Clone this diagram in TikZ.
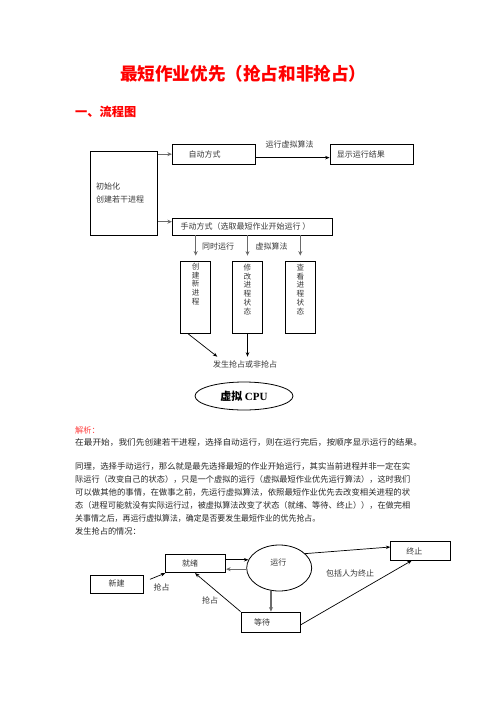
\documentclass[tikz,border=0pt]{standalone}
\usepackage{graphicx}
\usepackage{fontspec}
\setmainfont{Noto Sans CJK SC}
\newfontfamily\cpufont{Liberation Serif}
\usetikzlibrary{arrows.meta,shapes.geometric,calc}
\definecolor{tred}{HTML}{FF0000}
\definecolor{jred}{HTML}{FF4040}
\definecolor{txt}{HTML}{383838}
\definecolor{garrow}{HTML}{6A6A6A}
\newcommand\fitw[2]{\resizebox{#1}{\height}{#2}}
\tikzset{
  box/.style={draw=black, line width=0.8pt, inner sep=0pt},
  lbl/.style={font=\fontsize{8}{9.5}\selectfont, text=txt, inner sep=0pt},
  body/.style={font=\fontsize{8.2}{9}\selectfont, text=black!85, inner sep=0pt, anchor=west},
  vtxt/.style={font=\fontsize{7.6}{8.7}\selectfont, text=txt, inner sep=0pt, align=center, anchor=north},
  arr/.style={draw=black, line width=0.7pt, -{Stealth[length=4.5pt,width=3.5pt]}},
  garr/.style={draw=garrow, line width=1.5pt, -{Stealth[length=4.5pt,width=4pt]}}
}
\begin{document}
\begin{tikzpicture}[x=1pt,y=-1pt]
\useasboundingbox[fill=white] (0,0) rectangle (496,702);

% title
\node[font=\fontsize{17.6}{20}\selectfont\bfseries, text=tred, inner sep=0pt] (title) at (243.3,73.3) {最短作业优先（抢占和非抢占）};
\node[font=\fontsize{12.2}{14}\selectfont\bfseries, text=tred, inner sep=0pt, anchor=west] (head) at (75,112.3) {一、流程图};

% upper flow chart
\node[box, minimum width=67.7pt, minimum height=84pt] (init) at (123.85,193) {};
\node[lbl, anchor=west, align=left, font=\fontsize{8}{12.3}\selectfont] (initt) at (96,193) {初始化\\创建若干进程};
\node[box, minimum width=83.4pt, minimum height=19.7pt] (auto) at (214,154.15) {};
\node[lbl, anchor=west] (autot) at (188.3,154.15) {自动方式};
\node[box, minimum width=83pt, minimum height=19.7pt] (res) at (371.5,154.15) {};
\node[lbl, anchor=west] (rest) at (336.7,154.15) {显示运行结果};
\node[lbl] (virt) at (289.5,144) {运行虚拟算法};
\node[box, minimum width=159.7pt, minimum height=17pt] (man) at (252.15,226.5) {};
\node[lbl, anchor=west] (mant) at (180.5,226.5) {手动方式（选取最短作业开始运行 ）};

\coordinate (ia) at (init.north east |- auto.west);
\coordinate (im) at ($(init.north east |- man.west)+(0,-4.8)$);
\draw[garr, line width=1.2pt] (ia) -- (auto.west);
\draw[garr, line width=1.2pt] (im) -- (im -| man.west);
\draw[arr] ($(auto.east)+(0,3.5)$) -- ($(res.west)+(0,3.5)$);

\node[box, minimum width=30pt, minimum height=72.3pt] (cre) at (195.7,297.15) {};
\node[box, minimum width=29.6pt, minimum height=72.3pt] (mod) at (247.5,297.15) {};
\node[box, minimum width=30pt, minimum height=72.3pt] (vie) at (300.3,297.15) {};
\node[vtxt] (cret) at (195.7,263) {创\\建\\新\\进\\程};
\node[vtxt] (modt) at (247.5,264) {修\\改\\进\\程\\状\\态};
\node[vtxt] (viet) at (300.3,264) {查\\看\\进\\程\\状\\态};

\draw[garr] (man.south -| cre.north) -- ($(cre.north)+(0,-5)$);
\draw[garr] (man.south -| mod.north) -- ($(mod.north)+(0,-5)$);
\draw[garr] (man.south -| vie.north) -- ($(vie.north)+(0,-5)$);
\node[lbl] (sim) at (218,246) {同时运行};
\node[lbl] (valg) at (271.7,246) {虚拟算法};

\node[lbl] (pre) at (245,364) {发生抢占或非抢占};
\coordinate (pa) at (217.3,356.7);
\draw[arr] ($(cre.south)+(-7.7,0)$) -- (pa);
\draw[arr] (mod.south) -- (mod.south |- pa);
\node[draw=black, line width=0.8pt, ellipse, minimum width=98pt, minimum height=28pt, inner sep=0pt] (cpu) at (244,396) {};
\node[inner sep=0pt, font=\fontsize{11}{13}\selectfont\bfseries] (cput) at (244,396.5) {虚拟 {\cpufont CPU}};

% explanation text
\node[body, text=jred] (jx) at (75,430) {解析：};
\node[body] (p1) at (75,442) {\fitw{346.7pt}{在最开始，我们先创建若干进程，选择自动运行，则在运行完后，按顺序显示运行的结果。}};
\node[body] (p2a) at (75,466) {\fitw{335pt}{同理，选择手动运行，那么就是最先选择最短的作业开始运行，其实当前进程并非一定在实}};
\node[body] (p2b) at (75,479) {\fitw{335pt}{际运行（改变自己的状态），只是一个虚拟的运行（虚拟最短作业优先运行算法），这时我们}};
\node[body] (p2c) at (75,492) {\fitw{335pt}{可以做其他的事情，在做事之前，先运行虚拟算法，依照最短作业优先去改变相关进程的状}};
\node[body] (p2d) at (75,505) {\fitw{335pt}{态（进程可能就没有实际运行过，被虚拟算法改变了状态（就绪、等待、终止）），在做完相}};
\node[body] (p2e) at (75,518) {\fitw{245pt}{关事情之后，再运行虚拟算法，确定是否要发生最短作业的优先抢占。}};
\node[body] (p3) at (75,531) {发生抢占的情况：};

% state diagram
\node[box, minimum width=53.3pt, minimum height=18.3pt] (new) at (116.65,584.15) {};
\node[lbl] (newt) at (116.65,583.5) {新建};
\node[box, minimum width=60pt, minimum height=18.4pt] (rdy) at (195.7,563.5) {};
\node[lbl] (rdyt) at (190,563.3) {就绪};
\node[draw=black, line width=0.8pt, ellipse, minimum width=65pt, minimum height=46pt, inner sep=0pt] (run) at (279.2,568) {};
\node[lbl] (runt) at (278.3,562) {运行};
\node[box, minimum width=59.3pt, minimum height=18.3pt] (end) at (420.35,551) {};
\node[lbl] (endt) at (414.3,551) {终止};
\node[box, minimum width=59pt, minimum height=20pt] (wait) at (270.5,622) {};
\node[lbl] (waitt) at (262,622) {等待};

\coordinate (nr) at (150,579.3);
\draw[arr] (nr) -- (rdy.south west);
\node[lbl] (q1) at (161.7,587.3) {抢占};
\draw[arr] (rdy.east |- run.165) -- (run.165);
\draw[garr, line width=1.3pt] (run.182) -- (rdy.east |- run.182);
\draw[garr] (run.250) -- (run.250 |- wait.north);
\draw[arr] (run.29) -- ($(end.west)+(0,-4)$);
\draw[arr] ($(wait.east)+(0,3)$) -- ($(end.south)+(-8.6,0)$);
\draw[arr] (wait.north west) -- ($(rdy.south)+(-0.7,0)$);
\node[lbl] (q2) at (210,600) {抢占};
\node[lbl] (incl) at (350,573.3) {包括人为终止};
\end{tikzpicture}
\end{document}
